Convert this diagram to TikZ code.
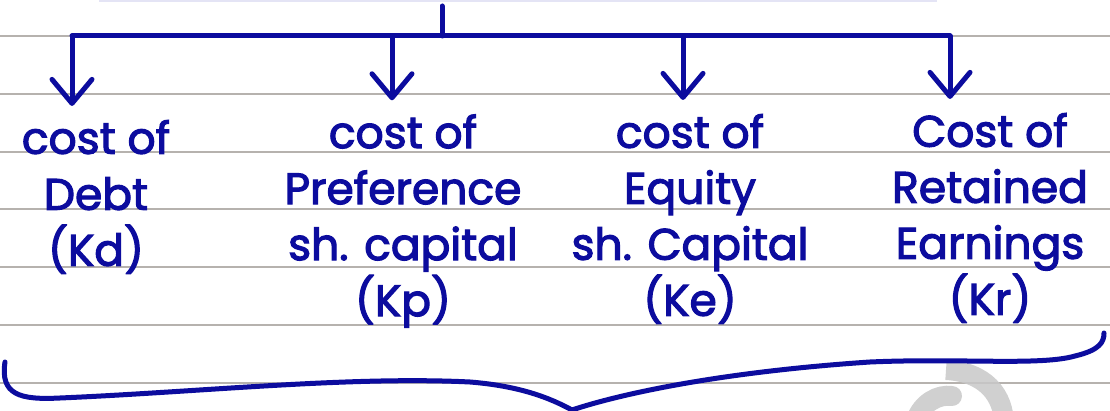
\documentclass[tikz,border=0pt]{standalone}
\usepackage{fontspec}
\newfontfamily\hand[FakeBold=2.6]{Poppins}
\usetikzlibrary{arrows.meta}
\definecolor{penblue}{RGB}{12,12,158}
\definecolor{ruling}{RGB}{182,178,174}
\definecolor{topline}{RGB}{228,228,245}
\definecolor{wmark}{RGB}{200,200,200}
\tikzset{
  pen/.style={draw=penblue, line width=5pt, line cap=round, line join=round},
  arr/.style={pen, -{Straight Barb[length=24pt,width=40pt,line cap=round,line join=round]}, shorten >=14pt},
  label/.style={text=penblue, font=\hand\fontsize{44}{56}\selectfont, align=center, inner sep=0pt},
  rule/.style={draw=ruling, line width=2.2pt}
}
\begin{document}
\begin{tikzpicture}[x=1pt,y=-1pt]
\useasboundingbox (0,0) rectangle (1110,411);
\fill[white] (0,0) rectangle (1110,411);
% paper ruling
\draw[draw=topline, line width=2pt] (99,1) -- (937,1);
\foreach \y in {36,94,152,209,267,325,383} \draw[rule] (0,\y) -- (1110,\y);
% watermark fragment
\draw[wmark, line width=20pt, opacity=0.85] (946,370) .. controls (985,372) and (1004,395) .. (1004,425);
\draw[wmark, line width=20pt, opacity=0.85, line cap=round] (916,420) .. controls (922,403) and (938,394) .. (952,396);
% text columns
\node[label] (debt) at (96,197) {cost of\\Debt\\(Kd)};
\node[label] (pref) at (403,221) {cost of\\Preference\\sh. capital\\(Kp)};
\node[label] (eq) at (690,219) {cost of\\Equity\\sh. Capital\\(Ke)};
\node[label] (ret) at (990,218) {Cost of\\Retained\\Earnings\\(Kr)};
% top stub and bar
\coordinate (top) at (442,6);
\coordinate (j) at (442,36);
\coordinate (b1) at (72,36);
\coordinate (b2) at (392,36);
\coordinate (b3) at (683,36);
\coordinate (b4) at (950,36);
\draw[pen] (top) -- (j);
\draw[pen] (b1) -- (b4);
\draw[arr] (b1) -- (b1 |- debt.north);
\draw[arr] (b2) -- (b2 |- pref.north);
\draw[arr] (b3) -- (b3 |- eq.north);
\draw[arr] (b4) -- (b4 |- ret.north);
% brace
\coordinate (bl) at (5,362);
\coordinate (bt) at (572,410);
\coordinate (br) at (1104,333);
\draw[pen] (bl) .. controls (0,395) and (20,400) .. (60,398)
  .. controls (200,392) and (350,376) .. (470,382)
  .. controls (520,386) and (550,398) .. (bt)
  .. controls (620,394) and (720,372) .. (870,362)
  .. controls (960,358) and (1040,366) .. (1075,356)
  .. controls (1100,350) and (1104,342) .. (br);
\end{tikzpicture}
\end{document}
